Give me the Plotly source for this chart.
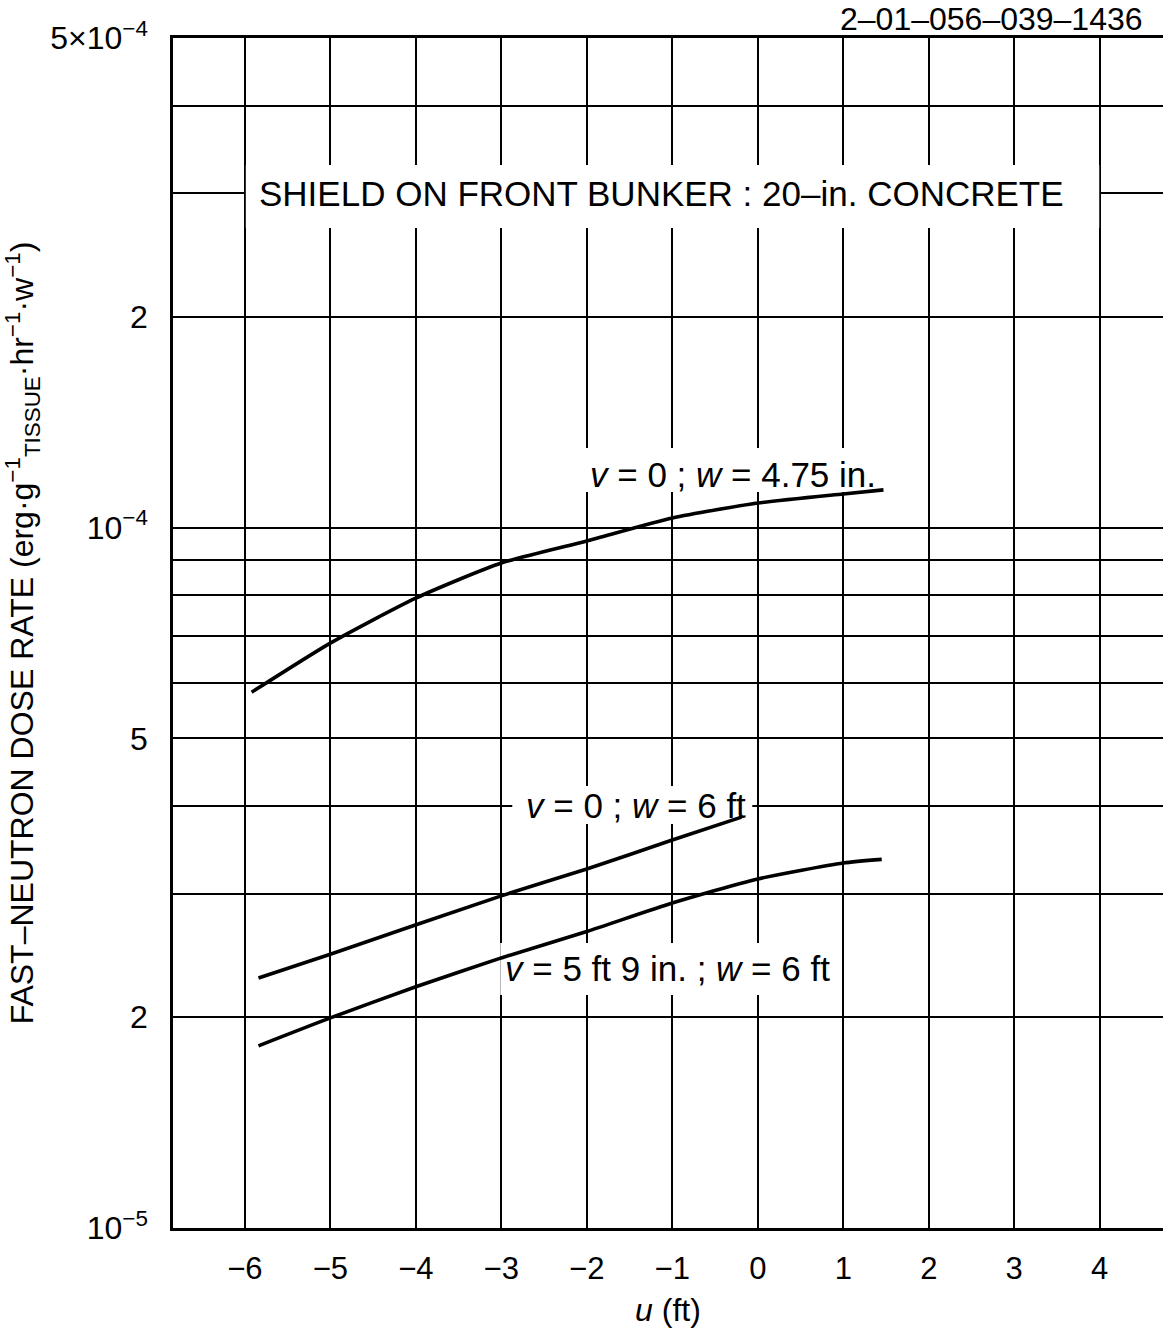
import numpy as np
import plotly.graph_objects as go

# ---- data ----
u_a = [-5.92, -5.0, -4.0, -3.0, -2.0, -1.0, 0.0, 1.0, 1.47]
d_a = [5.82e-5, 6.84e-5, 7.93e-5, 8.90e-5, 9.57e-5, 1.032e-4, 1.084e-4, 1.117e-4, 1.132e-4]

u_b = [-5.84, -5.0, -3.0, -2.0, -1.0, -0.19]
d_b = [2.275e-5, 2.46e-5, 2.98e-5, 3.255e-5, 3.58e-5, 3.86e-5]

u_c = [-5.84, -5.0, -4.0, -3.0, -2.0, -1.0, 0.0, 1.0, 1.45]
d_c = [1.82e-5, 1.995e-5, 2.21e-5, 2.43e-5, 2.65e-5, 2.91e-5, 3.15e-5, 3.32e-5, 3.36e-5]

x_ticks = [-6, -5, -4, -3, -2, -1, 0, 1, 2, 3, 4]
x_ticktext = ["\u22126", "\u22125", "\u22124", "\u22123", "\u22122", "\u22121", "0", "1", "2", "3", "4"]
y_ticks = [1e-5, 2e-5, 3e-5, 4e-5, 5e-5, 6e-5, 7e-5, 8e-5, 9e-5,
           1e-4, 2e-4, 3e-4, 4e-4, 5e-4]
y_ticktext = ["10<sup>\u22125</sup>", "2", "", "", "5", "", "", "", "",
              "10<sup>\u22124</sup>", "2", "", "", "5\u00d710<sup>\u22124</sup>"]

FONT = "Liberation Sans"

# plot area in pixels (used only for placing text boxes)
PX_L, PX_T, PX_B = 173, 38, 1228
Y_LO, Y_HI = -5.0, float(np.log10(5e-4))
U0, UPX = -6.0, 85.5          # u=-6 at x=244.5, 85.5 px per ft

def px_to_u(px):
    return U0 + (px - 244.5) / UPX

def py_to_log(py):
    return Y_LO + (PX_B - py) / (PX_B - PX_T) * (Y_HI - Y_LO)

fig = go.Figure()
for xs, ys in [(u_a, d_a), (u_b, d_b), (u_c, d_c)]:
    fig.add_trace(go.Scatter(x=xs, y=ys, mode="lines",
                             line=dict(color="black", width=3.6, shape="spline", smoothing=0.6),
                             showlegend=False, hoverinfo="skip"))

def label(text, cx, cy, box, size=35):
    x0, x1, y0, y1 = box
    fig.add_shape(type="rect", xref="x", yref="y", layer="between",
                  x0=px_to_u(x0), x1=px_to_u(x1),
                  y0=10 ** py_to_log(y1), y1=10 ** py_to_log(y0),
                  fillcolor="white", line=dict(width=0))
    fig.add_annotation(text=text, x=px_to_u(cx), y=py_to_log(cy), xref="x", yref="y",
                       showarrow=False, font=dict(family=FONT, size=size, color="black"),
                       xanchor="center", yanchor="middle")

label("SHIELD ON FRONT BUNKER : 20\u2013in. CONCRETE", 661, 193, (245.5, 1099, 165, 228), size=35)
label("<i>v</i> = 0 ; <i>w</i> = 4.75 in.", 733, 474, (580, 888, 448, 492), size=35)
label("<i>v</i> = 0 ; <i>w</i> = 6 ft", 636, 805, (512, 752, 786, 824), size=35)
label("<i>v</i> = 5 ft 9 in. ; <i>w</i> = 6 ft", 667, 968, (500, 835, 943, 995), size=35)

fig.add_annotation(text="2\u201301\u2013056\u2013039\u20131436", xref="paper", yref="paper",
                   x=(838 - PX_L) / 990, y=1 + (PX_T - 19) / (PX_B - PX_T), xanchor="left", yanchor="middle",
                   showarrow=False, font=dict(family=FONT, size=32, color="black"))

fig.update_layout(
    width=1163, height=1333,
    margin=dict(l=173, r=0, t=38, b=105),
    paper_bgcolor="white", plot_bgcolor="white",
    font=dict(family=FONT, color="black"),
    xaxis=dict(range=[-6.84, 4.74], tickvals=x_ticks, ticktext=x_ticktext,
               showgrid=True, gridcolor="black", gridwidth=1.8,
               showline=True, linecolor="black", linewidth=2.5, mirror=True,
               ticks="", ticklabelstandoff=11, zeroline=False,
               tickfont=dict(family=FONT, size=31, color="black"),
               title=dict(text="<i>u</i> (ft)", font=dict(family=FONT, size=32, color="black"),
                          standoff=14)),
    yaxis=dict(type="log", range=[Y_LO, Y_HI], tickvals=y_ticks, ticktext=y_ticktext,
               showgrid=True, gridcolor="black", gridwidth=1.8,
               showline=True, linecolor="black", linewidth=2.5, mirror=False,
               ticks="", ticklabelstandoff=16, zeroline=False,
               tickfont=dict(family=FONT, size=32, color="black"),
               title=dict(text="FAST\u2013NEUTRON DOSE RATE (erg\u00b7g<sup>\u22121</sup><sub>TISSUE</sub>\u00b7hr<sup>\u22121</sup>\u00b7w<sup>\u22121</sup>)",
                          font=dict(family=FONT, size=32, color="black"), standoff=16)),
)

fig.write_html("out.html")
